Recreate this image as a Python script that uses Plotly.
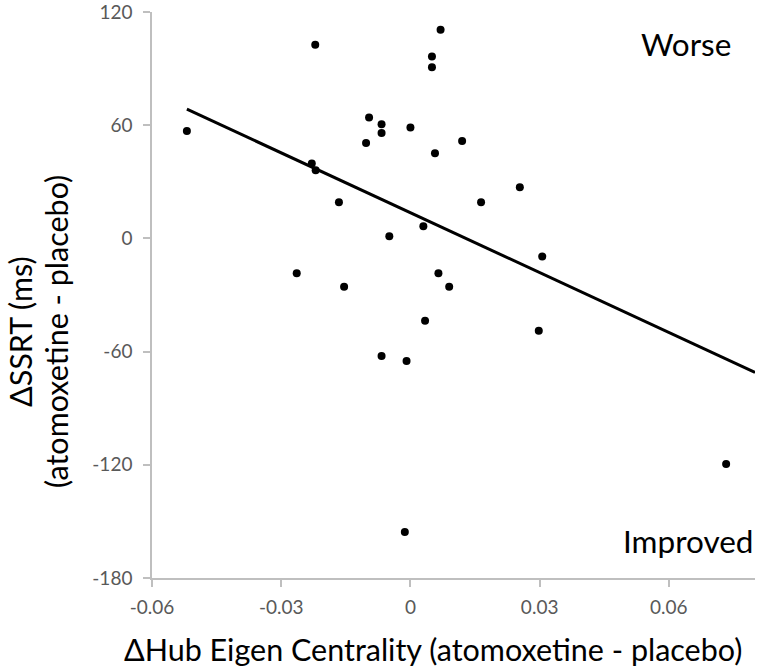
import numpy as np
import plotly.graph_objects as go

# ΔHub eigen centrality vs ΔSSRT (atomoxetine - placebo)
delta_centrality = [
    -0.0519, -0.0221, 0.0070, 0.0050, 0.0050, -0.0096, -0.0067, -0.0067,
    -0.0103, 0.0000, 0.0120, 0.0057, -0.0229, -0.0220, -0.0166, 0.0030,
    -0.0049, -0.0264, 0.0065, -0.0154, 0.0090, 0.0254, 0.0164, 0.0306,
    0.0034, -0.0067, -0.0009, -0.0013, 0.0298, 0.0733,
]
delta_ssrt = [
    57.0, 102.7, 110.6, 96.5, 90.8, 64.1, 60.5, 55.9,
    50.6, 58.8, 51.7, 45.2, 39.7, 36.2, 19.2, 6.5,
    1.2, -18.5, -18.5, -25.6, -25.6, 27.2, 19.2, -9.5,
    -43.6, -62.3, -65.0, -155.6, -48.9, -119.6,
]
x_ticks = [-0.06, -0.03, 0, 0.03, 0.06]
x_tick_text = ["-0.06", "-0.03", "0", "0.03", "0.06"]
y_ticks = [120, 60, 0, -60, -120, -180]
y_tick_text = ["120", "60", "0", "-60", "-120", "-180"]
x_range = [-0.06, 0.08]
y_range = [-180, 120.05]

FONT = "Lato, 'Open Sans', sans-serif"
AXIS_GREY = "#bfbfbf"
TICK_GREY = "#595959"

# linear trendline (least squares), extended to the end of the x axis
slope, intercept = np.polyfit(delta_centrality, delta_ssrt, 1)
trend_x = [min(delta_centrality), x_range[1]]
trend_y = [slope * v + intercept for v in trend_x]

fig = go.Figure()

fig.add_trace(go.Scatter(
    x=trend_x, y=trend_y, mode="lines",
    line=dict(color="black", width=3),
    hoverinfo="skip", showlegend=False,
))
fig.add_trace(go.Scatter(
    x=delta_centrality, y=delta_ssrt, mode="markers",
    marker=dict(color="black", size=8),
    showlegend=False,
))

axis_common = dict(showgrid=False, zeroline=False, automargin=False)

fig.update_layout(
    width=760, height=667,
    margin=dict(l=152, r=5, t=12, b=89),
    paper_bgcolor="white", plot_bgcolor="white",
    font=dict(family=FONT, color="black"),
    xaxis=dict(
        range=x_range, tickvals=x_ticks, ticktext=x_tick_text,
        showline=True, linecolor=AXIS_GREY, linewidth=1.5,
        ticks="outside", ticklen=7, tickcolor=AXIS_GREY, tickwidth=1.5,
        tickfont=dict(size=19, color=TICK_GREY), ticklabelstandoff=4,
        ticklabeloverflow="allow",
        **axis_common,
    ),
    yaxis=dict(
        range=y_range, tickvals=y_ticks, ticktext=y_tick_text,
        showline=True, linecolor=AXIS_GREY, linewidth=1.5,
        ticks="outside", ticklen=7, tickcolor=AXIS_GREY, tickwidth=1.5,
        tickfont=dict(size=19, color=TICK_GREY), ticklabelstandoff=7,
        ticklabeloverflow="allow",
        **axis_common,
    ),
    # overlay axes only to draw the inner half of the crossing tick marks
    xaxis2=dict(
        overlaying="x", anchor="y", range=x_range, tickvals=x_ticks,
        showticklabels=False, showline=False,
        ticks="inside", ticklen=6, tickcolor=AXIS_GREY, tickwidth=1.5,
        side="bottom", **axis_common,
    ),
    yaxis2=dict(
        overlaying="y", anchor="x", range=y_range, tickvals=y_ticks,
        showticklabels=False, showline=False,
        ticks="inside", ticklen=6, tickcolor=AXIS_GREY, tickwidth=1.5,
        side="left", **axis_common,
    ),
)

# axis titles
fig.add_annotation(
    text="ΔHub Eigen Centrality (atomoxetine - placebo)",
    xref="paper", yref="paper", x=0.4654, y=0,
    xanchor="center", yanchor="middle", yshift=-71,
    showarrow=False, font=dict(size=30.5, color="black"),
)
fig.add_annotation(
    text="ΔSSRT (ms)",
    xref="paper", yref="y", x=0, y=-49.6, xshift=-132,
    xanchor="center", yanchor="middle", textangle=-90,
    showarrow=False, font=dict(size=30.5, color="black"),
)
fig.add_annotation(
    text="(atomoxetine - placebo)",
    xref="paper", yref="y", x=0, y=-49.6, xshift=-96,
    xanchor="center", yanchor="middle", textangle=-90,
    showarrow=False, font=dict(size=30.5, color="black"),
)

# region labels
fig.add_annotation(
    text="Worse", xref="paper", yref="y", x=0.9636, y=103.2,
    xanchor="right", yanchor="middle",
    showarrow=False, font=dict(size=31.5, color="black"),
)
fig.add_annotation(
    text="Improved", xref="paper", yref="y", x=1.0, y=-160.3,
    xanchor="right", yanchor="middle",
    showarrow=False, font=dict(size=31.5, color="black"),
)

# drop the browser's default body margin so the 760x667 figure fits the window
fig.write_html(
    "out.html",
    config={"displayModeBar": False},
    post_script="document.body.style.margin = '0';",
)
